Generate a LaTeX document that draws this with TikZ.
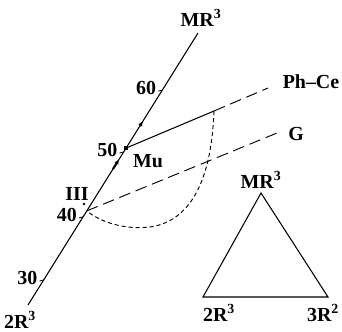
\documentclass[tikz,border=0pt]{standalone}
\usepackage{fontspec}
\setmainfont{Liberation Serif}
\usetikzlibrary{calc,arrows.meta}

\begin{document}
\begin{tikzpicture}[
    x=0.3mm, y=-0.3mm,
    font=\fontsize{17}{19}\selectfont\bfseries,
    joinline/.style={line width=0.9pt},
    phase/.style={line width=0.8pt, dash pattern=on 10pt off 5pt},
    solvus/.style={line width=0.8pt, dash pattern=on 3.5pt off 2.5pt},
    tickmark/.style={line width=0.7pt},
    flow/.style={-{Latex[length=4pt,width=4pt]}, line width=0.9pt},
    lbl/.style={inner sep=0pt}
]
\useasboundingbox (0,0) rectangle (342,331);

% Join 2R3 -- MR3
\coordinate (bot) at (28,305);
\coordinate (top) at (198,33);
\draw[joinline] (bot) -- (top);
\node[lbl] (botlbl) at (20,320) {2R\textsuperscript{3}};
\node[lbl] (toplbl) at (201,18) {MR\textsuperscript{3}};

% Temperature ticks
\foreach \t/\val in {0.092/30, 0.324/40, 0.5625/50, 0.790/60} {
    \coordinate (t\val) at ($(bot)!\t!(top)$);
    \draw[tickmark] (t\val) -- ++(-4,1);
    \node[lbl, anchor=east] (l\val) at ($(t\val)+(-6,-2)$) {\val};
}

% Points on the join
\coordinate (mu) at ($(bot)!0.577!(top)$);
\coordinate (iii) at ($(bot)!0.346!(top)$);
\fill ($(mu)+(-2,-2)$) rectangle ($(mu)+(2,2)$);
\fill (84,204) circle (1.2pt);
\draw[flow] ($(bot)!0.655!(top)$) -- ($(bot)!0.675!(top)$);
\draw[flow, line width=1.8pt] ($(bot)!0.50!(top)$) -- ($(bot)!0.535!(top)$);
\node[lbl] (mulbl) at (148,161) {Mu};
\node[lbl] (iiilbl) at (77,194) {III};

% Ph-Ce and G boundaries
\coordinate (pc) at (214,111);
\coordinate (pcend) at (268,88);
\coordinate (gend) at (277,133);
\draw[joinline] (mu) -- (pc);
\draw[phase] (pc) -- (pcend);
\draw[phase] (iii) -- (gend);
\node[lbl] (pclbl) at (311,82) {Ph--Ce};
\node[lbl] (glbl) at (296,134) {G};

% Solvus curve
\draw[solvus] (pc) .. controls (211,190) and (185,222) .. (150,227)
    .. controls (125,230) and (100,222) .. (iii);

% Composition triangle
\coordinate (tA) at (261,193);
\coordinate (tB) at (203,297);
\coordinate (tC) at (328,297);
\draw[joinline] (tA) -- (tB) -- (tC) -- cycle;
\node[lbl] (tAlbl) at (261,180) {MR\textsuperscript{3}};
\node[lbl] (tBlbl) at (219,313) {2R\textsuperscript{3}};
\node[lbl] (tClbl) at (323,313) {3R\textsuperscript{2}};
\end{tikzpicture}
\end{document}
